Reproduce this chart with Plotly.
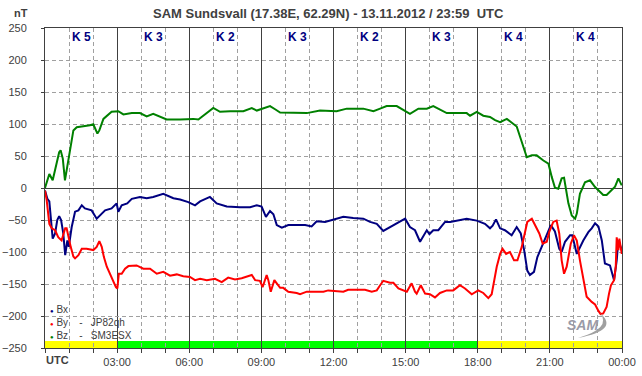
import plotly.graph_objects as go

# ---- data (hours UTC, nT) ----
bz_t = [0.00,0.18,0.32,0.59,0.65,0.74,0.83,0.94,1.07,1.18,1.32,1.59,1.87,2.01,2.18,2.26,2.43,2.77,3.05,3.26,3.61,3.95,4.23,4.50,4.78,5.06,5.62,6.17,6.38,6.58,6.86,7.00,7.28,7.70,8.25,8.60,8.81,9.08,9.36,9.57,9.78,10.89,11.44,12.13,12.55,13.24,13.66,13.94,14.21,14.63,14.90,15.18,15.53,15.88,16.15,16.50,16.71,16.85,17.54,17.68,17.96,18.23,18.51,18.72,18.93,19.21,19.48,19.62,19.76,19.90,20.04,20.25,20.45,20.73,20.94,21.08,21.21,21.35,21.49,21.59,21.66,21.77,21.91,22.05,22.12,22.25,22.46,22.67,22.88,23.09,23.22,23.36,23.57,23.71,23.85,23.99]
bz_v = [0,22,12,56,59,46,12,38,69,90,95,96,98,99.5,85,90,108,119,120,115,117,117,112,116,111,107,107,108,107,113,121,125,119,120,120,125,121,125,128,123,118,117,121,120,124,124,120,124,128,128,122,116,124,124,128,121,117,117,117,113,119,113,111,106,103,108,99.5,96,80,64,48,51,51,43,38,17,0.6,-1,15,16,2,-24,-43,-48,-40,-9,9,12,1.6,-6,-11,-11,-4,2,15,4]

bx_t = [0.00,0.10,0.18,0.25,0.32,0.42,0.51,0.59,0.67,0.76,0.84,0.93,0.99,1.11,1.25,1.39,1.53,1.66,1.94,2.15,2.29,2.50,2.77,2.98,3.05,3.19,3.42,3.61,3.95,4.23,4.50,4.92,5.34,5.62,5.96,6.24,6.45,6.86,7.14,7.56,8.11,8.53,8.81,9.01,9.19,9.36,9.50,9.64,9.85,10.12,10.47,10.82,11.09,11.30,11.65,11.99,12.41,12.82,13.24,13.52,13.80,14.07,14.35,14.63,14.84,14.98,15.18,15.39,15.60,15.78,15.88,15.99,16.15,16.36,16.64,16.85,17.13,17.54,17.96,18.30,18.51,18.62,18.76,18.93,19.13,19.34,19.41,19.62,19.79,19.93,20.06,20.17,20.34,20.48,20.66,20.73,20.87,21.04,21.21,21.39,21.49,21.63,21.84,21.93,22.12,22.25,22.39,22.60,22.74,22.88,23.02,23.16,23.29,23.50,23.67,23.78,23.85,23.99]
bx_v = [-4,-17,-21,-45,-79,-71,-50,-44,-50,-71,-105,-82,-92,-61,-37,-35,-27,-32,-35,-48,-43,-35,-32,-24,-37,-27,-24,-17,-14,-16,-14,-9,-16,-18,-22,-27,-21,-14,-24,-29,-30,-30,-27,-29,-45,-36,-41,-58,-62,-58,-58,-58,-60,-52,-53,-49,-45,-47,-48,-53,-56,-67,-61,-56,-51,-48,-61,-66,-84,-71,-66,-72,-66,-66,-53,-53,-51,-48,-51,-56,-63,-59,-49,-63,-66,-71,-74,-61,-71,-97,-129,-136,-131,-108,-92,-86,-71,-58,-68,-95,-100,-84,-74,-74,-103,-92,-82,-69,-63,-55,-60,-82,-118,-121,-144,-113,-82,-97]

by_t = [0.00,0.07,0.18,0.28,0.42,0.55,0.69,0.84,0.90,0.97,1.07,1.18,1.25,1.39,1.53,1.73,2.01,2.15,2.26,2.36,2.45,2.57,2.70,2.84,2.95,3.01,3.07,3.19,3.33,3.47,3.81,4.09,4.37,4.65,4.92,5.20,5.48,5.75,6.03,6.24,6.45,6.73,7.07,7.35,7.62,7.90,8.18,8.60,8.74,8.94,9.05,9.22,9.29,9.39,9.54,9.64,9.78,9.91,10.12,10.47,10.61,10.89,11.58,11.78,12.13,12.41,12.61,13.31,13.59,13.80,13.94,14.07,14.35,14.49,14.70,14.90,15.05,15.25,15.39,15.46,15.63,15.81,16.01,16.22,16.43,16.71,16.98,17.26,17.47,17.75,18.02,18.23,18.37,18.44,18.58,18.68,18.79,18.93,19.03,19.18,19.34,19.51,19.65,19.83,19.97,20.06,20.25,20.38,20.56,20.70,20.87,20.98,21.14,21.28,21.39,21.49,21.59,21.70,21.87,22.00,22.12,22.25,22.39,22.53,22.74,22.88,23.02,23.11,23.22,23.36,23.46,23.54,23.67,23.74,23.78,23.85,23.89,23.99]
by_v = [-4,-19,-56,-63,-66,-77,-82,-63,-63,-77,-92,-107,-110,-105,-95,-95,-97,-92,-83,-92,-108,-123,-134,-147,-155,-157,-134,-134,-126,-122,-121,-126,-126,-134,-131,-137,-135,-138,-139,-144,-142,-144,-142,-147,-140,-143,-141,-136,-144,-145,-155,-136,-144,-162,-144,-149,-156,-156,-162,-164,-166,-162,-162,-160,-161,-162,-159,-159,-162,-160,-152,-145,-148,-148,-157,-160,-162,-149,-162,-165,-152,-165,-166,-171,-164,-160,-160,-152,-157,-166,-160,-164,-170,-172,-166,-144,-123,-103,-95,-103,-100,-113,-113,-92,-71,-53,-48,-58,-71,-87,-84,-68,-53,-51,-71,-113,-134,-123,-87,-74,-82,-113,-144,-170,-178,-182,-192,-197,-196,-186,-165,-152,-144,-123,-77,-97,-79,-103]

k_index = [5, 3, 2, 3, 2, 3, 4, 4]
k_centers = [1.5, 4.5, 7.5, 10.5, 13.5, 16.5, 19.5, 22.5]
hour_ticks = [3, 6, 9, 12, 15, 18, 21, 24]
hour_labels = ["03:00", "06:00", "09:00", "12:00", "15:00", "18:00", "21:00", "00:00"]
band_segments = [(0, 3, "#ffff00"), (3, 18, "#00ff00"), (18, 24, "#ffff00")]

FONT = "Liberation Sans, Arial, sans-serif"
TXT = "#404040"

fig = go.Figure()
for t, v, c, n in [(bz_t, bz_v, "#008000", "Bz"), (bx_t, bx_v, "#000080", "Bx"), (by_t, by_v, "#ff0000", "By")]:
    fig.add_trace(go.Scatter(x=t, y=v, mode="lines", name=n,
                             line=dict(color=c, width=2), showlegend=False, hoverinfo="skip"))

shapes = []
for x0, x1, col in band_segments:
    shapes.append(dict(type="rect", xref="x", yref="y", x0=x0, x1=x1, y0=-250, y1=-239,
                       fillcolor=col, line=dict(width=0), layer="below"))

annotations = []
for k, xc in zip(k_index, k_centers):
    annotations.append(dict(x=xc, y=236, xref="x", yref="y", text=f"<b>K {k}</b>",
                            xanchor="center", yanchor="middle",
                            showarrow=False, font=dict(family=FONT, size=12, color="#000080")))

W0, W1, T0, T1 = 45, 622, 28, 348
def px(xp): return (xp - W0) / (W1 - W0)
def py(yp): return (T1 - yp) / (T1 - T0)

def note(xp, yp, text, size=13, color=TXT, xanchor="left"):
    annotations.append(dict(x=px(xp), y=py(yp), xref="paper", yref="paper", text=text,
                            xanchor=xanchor, yanchor="middle", showarrow=False, borderpad=0,
                            font=dict(family=FONT, size=size, color=color)))

note(328, 13, "<b>SAM Sundsvall (17.38E, 62.29N) - 13.11.2012 / 23:59 \u00a0UTC</b>", 13, xanchor="center")
note(21, 13, "<b>nT</b>", 11, xanchor="center")
note(45, 360, "<b>UTC</b>", 11)

NB = "\u00a0"
legend_rows = [("Bx", "", "#000080", 309), ("By", "JP82qh", "#ff0000", 322), ("Bz", "SM3ESX", "#008000", 335)]
for name, call, col, yy in legend_rows:
    txt = f"<span style='font-size:6px;color:{col}'>●</span>{NB}{name}"
    if call:
        txt += f"{NB*4}-{NB*3}{call}"
    note(48.5, yy, txt, 10)

# SAM logo (approximate)
note(582, 325, "<i><b>SAM</b></i>", 14, "#9a9aa8", xanchor="center")
shapes.append(dict(type="path", xref="paper", yref="paper",
                   path=f"M {px(578)} {py(338)} Q {px(620)} {py(330)} {px(600)} {py(313)} Q {px(612)} {py(328)} {px(578)} {py(338)} Z",
                   fillcolor="#a0a0a0", line=dict(width=0), layer="above"))

fig.update_layout(
    width=642, height=376,
    margin=dict(l=W0, r=642 - W1, t=T0, b=376 - T1, pad=0, autoexpand=False),
    paper_bgcolor="white", plot_bgcolor="white",
    font=dict(family=FONT, size=11, color=TXT),
    shapes=shapes, annotations=annotations, showlegend=False, hovermode=False,
)
fig.update_xaxes(
    range=[0, 24], tickmode="array", tickvals=hour_ticks, ticktext=hour_labels,
    ticks="outside", ticklen=4, tickcolor="#404040", automargin=False,
    showgrid=True, gridcolor="#404040", gridwidth=1,
    showline=True, linecolor="#404040", linewidth=1, mirror=True,
    zeroline=False, tickfont=dict(family=FONT, size=11, color=TXT),
    minor=dict(tickmode="linear", tick0=0, dtick=1, ticks="outside", ticklen=4, tickcolor="#404040",
               showgrid=True, gridcolor="#a0a0a0", griddash="4px,3px", gridwidth=1),
)
fig.update_yaxes(
    range=[-250, 250], tickmode="linear", tick0=-250, dtick=50,
    ticks="outside", ticklen=3, tickcolor="#404040", ticklabelstandoff=12, automargin=False,
    showgrid=True, gridcolor="#a0a0a0", griddash="4px,3px", gridwidth=1,
    zeroline=True, zerolinecolor="#404040", zerolinewidth=1,
    showline=True, linecolor="#404040", linewidth=1, mirror=True,
    tickfont=dict(family=FONT, size=11, color=TXT),
)

fig.write_html("out.html", config={"displayModeBar": False, "staticPlot": True},
               post_script="document.body.style.margin='0';document.body.style.overflow='hidden';")
